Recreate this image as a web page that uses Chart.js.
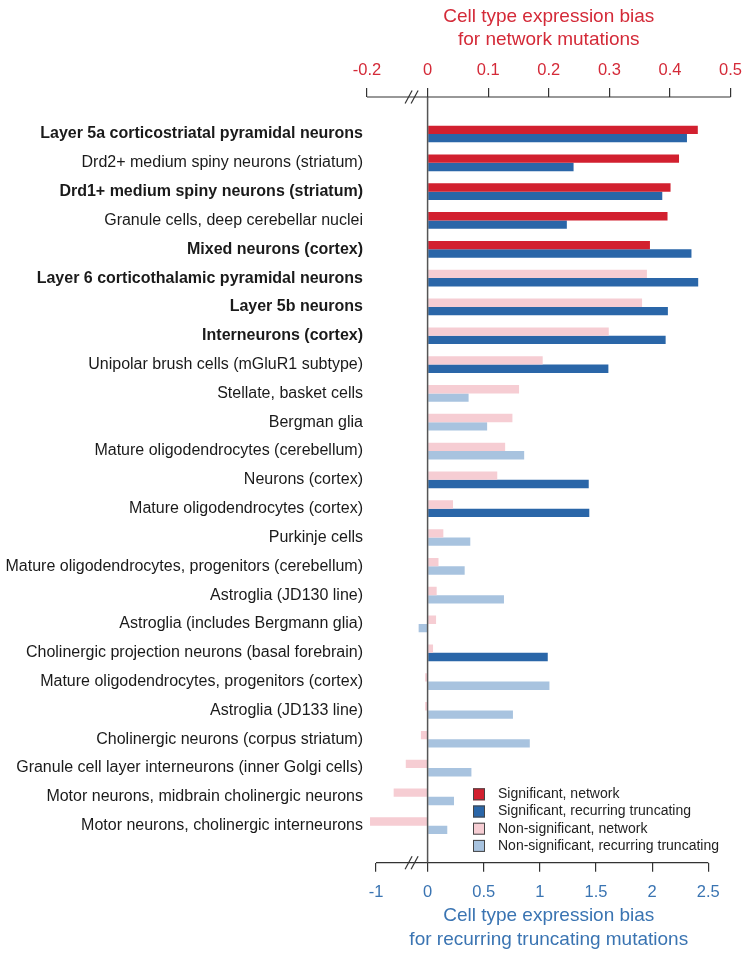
<!DOCTYPE html>
<html>
<head>
<meta charset="utf-8">
<title>Cell type expression bias</title>
<script src="https://cdn.jsdelivr.net/npm/chart.js@4.4.0/dist/chart.umd.min.js"></script>
<style>
html, body { margin: 0; padding: 0; background: #fff; }
#wrap { width: 750px; height: 956px; }
</style>
</head>
<body>
<div id="wrap"><canvas id="myChart" width="750" height="956"></canvas></div>
<script>
// data (top to bottom)
var cellTypes = [
    'Layer 5a corticostriatal pyramidal neurons',
    'Drd2+ medium spiny neurons (striatum)',
    'Drd1+ medium spiny neurons (striatum)',
    'Granule cells, deep cerebellar nuclei',
    'Mixed neurons (cortex)',
    'Layer 6 corticothalamic pyramidal neurons',
    'Layer 5b neurons',
    'Interneurons (cortex)',
    'Unipolar brush cells (mGluR1 subtype)',
    'Stellate, basket cells',
    'Bergman glia',
    'Mature oligodendrocytes (cerebellum)',
    'Neurons (cortex)',
    'Mature oligodendrocytes (cortex)',
    'Purkinje cells',
    'Mature oligodendrocytes, progenitors (cerebellum)',
    'Astroglia (JD130 line)',
    'Astroglia (includes Bergmann glia)',
    'Cholinergic projection neurons (basal forebrain)',
    'Mature oligodendrocytes, progenitors (cortex)',
    'Astroglia (JD133 line)',
    'Cholinergic neurons (corpus striatum)',
    'Granule cell layer interneurons (inner Golgi cells)',
    'Motor neurons, midbrain cholinergic neurons',
    'Motor neurons, cholinergic interneurons'
];
var boldRows = [0, 2, 4, 5, 6, 7];

var networkBias = [0.446, 0.415, 0.401, 0.396, 0.367, 0.362, 0.354, 0.299, 0.190, 0.151,
    0.140, 0.128, 0.115, 0.042, 0.026, 0.018, 0.015, 0.014, 0.009, -0.004,
    -0.004, -0.011, -0.036, -0.056, -0.095];
var truncBias = [2.31, 1.30, 2.09, 1.24, 2.35, 2.41, 2.14, 2.12, 1.61, 0.365,
    0.53, 0.86, 1.435, 1.44, 0.38, 0.33, 0.68, -0.08, 1.07, 1.085,
    0.76, 0.91, 0.39, 0.235, 0.175];
var networkSig = [1, 1, 1, 1, 1, 0, 0, 0, 0, 0, 0, 0, 0, 0, 0, 0, 0, 0, 0, 0, 0, 0, 0, 0, 0];
var truncSig = [1, 1, 1, 1, 1, 1, 1, 1, 1, 0, 0, 0, 1, 1, 0, 0, 0, 0, 1, 0, 0, 0, 0, 0, 0];

var networkTicks = [-0.2, 0, 0.1, 0.2, 0.3, 0.4, 0.5];
var truncTicks = [-1, 0, 0.5, 1, 1.5, 2, 2.5];

var legendLabels = ['Significant, network', 'Significant, recurring truncating',
    'Non-significant, network', 'Non-significant, recurring truncating'];

var FONT = '"Liberation Sans", Arial, Helvetica, sans-serif';
var RED = '#d2202f', BLUE = '#2a66a8', PINK = '#f6cdd3', LIGHTBLUE = '#a8c3df';
var RED_TXT = '#d42a38', BLUE_TXT = '#3a74b2';
var legendColors = [RED, BLUE, PINK, LIGHTBLUE];

// axes are broken: the negative end tick sits here instead of at its real value
var TOP_BREAK = -0.1;
var BOTTOM_BREAK = -0.46;

// axis lines, break marks, zero line and legend
var decor = {
    id: 'decor',
    afterDraw: function (chart) {
        var ctx = chart.ctx;
        var area = chart.chartArea;
        var top = chart.scales.xTop;
        var bot = chart.scales.xBottom;
        var x0 = top.getPixelForValue(0);
        ctx.save();

        ctx.strokeStyle = '#333';
        ctx.lineWidth = 1.2;
        var lines = [
            [top, area.top, TOP_BREAK, networkTicks[networkTicks.length - 1]],
            [bot, area.bottom, BOTTOM_BREAK, truncTicks[truncTicks.length - 1]]
        ];
        lines.forEach(function (l) {
            ctx.beginPath();
            ctx.moveTo(l[0].getPixelForValue(l[2]), l[1]);
            ctx.lineTo(l[0].getPixelForValue(l[3]), l[1]);
            ctx.stroke();
            // the two little slashes
            [x0 - 19, x0 - 13].forEach(function (cx) {
                ctx.beginPath();
                ctx.moveTo(cx - 3.5, l[1] + 6.5);
                ctx.lineTo(cx + 3.5, l[1] - 6.5);
                ctx.stroke();
            });
        });

        ctx.strokeStyle = '#555';
        ctx.lineWidth = 1.5;
        ctx.beginPath();
        ctx.moveTo(x0, area.top);
        ctx.lineTo(x0, area.bottom);
        ctx.stroke();

        // legend
        ctx.font = '14px ' + FONT;
        ctx.textBaseline = 'middle';
        ctx.textAlign = 'left';
        var lx = area.left + 106;
        for (var i = 0; i < legendLabels.length; i++) {
            var ly = area.bottom - 68.4 + 17.2 * i;
            ctx.fillStyle = legendColors[i];
            ctx.fillRect(lx, ly - 6, 12, 12);
            ctx.strokeStyle = '#444';
            ctx.lineWidth = 1;
            ctx.strokeRect(lx + 0.5, ly - 5.5, 11, 11);
            ctx.fillStyle = '#222';
            ctx.fillText(legendLabels[i], lx + 25, ly);
        }
        ctx.restore();
    }
};

var ctx = document.getElementById('myChart').getContext('2d');
var myChart = new Chart(ctx, {
    type: 'bar',
    data: {
        datasets: [{
            label: 'network',
            data: networkBias.map(function (v, i) { return { x: v, y: i }; }),
            xAxisID: 'xTop',
            yAxisID: 'y',
            backgroundColor: networkSig.map(function (s) { return s ? RED : PINK; }),
            borderWidth: 0,
            categoryPercentage: 0.58,
            barPercentage: 1
        }, {
            label: 'recurring truncating',
            data: truncBias.map(function (v, i) { return { x: v, y: i }; }),
            xAxisID: 'xBottom',
            yAxisID: 'y',
            backgroundColor: truncSig.map(function (s) { return s ? BLUE : LIGHTBLUE; }),
            borderWidth: 0,
            categoryPercentage: 0.58,
            barPercentage: 1
        }]
    },
    options: {
        indexAxis: 'y',
        responsive: false,
        animation: false,
        layout: { padding: { left: 0, right: 19, top: 0, bottom: 0 } },
        plugins: {
            legend: { display: false },
            tooltip: { enabled: false }
        },
        scales: {
            y: {
                type: 'linear',
                reverse: true,
                min: -1.284,
                max: 25.284,
                offset: false,
                grid: { display: false, drawTicks: false },
                border: { display: false },
                afterBuildTicks: function (s) {
                    s.ticks = cellTypes.map(function (c, i) { return { value: i }; });
                },
                afterFit: function (s) { s.width = 367; },
                ticks: {
                    autoSkip: false,
                    padding: 4,
                    color: '#1a1a1a',
                    callback: function (v) { return cellTypes[v]; },
                    font: function (c) {
                        return { family: FONT, size: 16, weight: boldRows.indexOf(c.index) >= 0 ? 'bold' : 'normal' };
                    }
                }
            },
            xTop: {
                type: 'linear',
                position: 'top',
                min: -0.1,
                max: 0.5,
                grid: { drawOnChartArea: false, drawTicks: true, tickLength: 9, color: '#333', lineWidth: 1.2 },
                border: { display: false },
                afterBuildTicks: function (s) {
                    s.ticks = networkTicks.map(function (v) { return { value: v < 0 ? TOP_BREAK : v }; });
                },
                afterFit: function (s) { s.height = 97; },
                ticks: {
                    autoSkip: false,
                    maxRotation: 0,
                    padding: 8,
                    color: RED_TXT,
                    font: { family: FONT, size: 16.5 },
                    callback: function (v, i) { return String(networkTicks[i]); }
                },
                title: {
                    display: true,
                    text: ['Cell type expression bias', 'for network mutations'],
                    color: RED_TXT,
                    font: { family: FONT, size: 19, lineHeight: 1.22 },
                    padding: { top: 5, bottom: 0 }
                }
            },
            xBottom: {
                type: 'linear',
                position: 'bottom',
                min: -0.54,
                max: 2.698,
                grid: { drawOnChartArea: false, drawTicks: true, tickLength: 9, color: '#333', lineWidth: 1.2 },
                border: { display: false },
                afterBuildTicks: function (s) {
                    s.ticks = truncTicks.map(function (v) { return { value: v < 0 ? BOTTOM_BREAK : v }; });
                },
                afterFit: function (s) { s.height = 93.3; },
                ticks: {
                    autoSkip: false,
                    maxRotation: 0,
                    padding: 11,
                    color: BLUE_TXT,
                    font: { family: FONT, size: 16.5 },
                    callback: function (v, i) { return String(truncTicks[i]); }
                },
                title: {
                    display: true,
                    text: ['Cell type expression bias', 'for recurring truncating mutations'],
                    color: BLUE_TXT,
                    font: { family: FONT, size: 19, lineHeight: 1.22 },
                    padding: { top: 0, bottom: 5 }
                }
            }
        }
    },
    plugins: [decor]
});
</script>
</body>
</html>
